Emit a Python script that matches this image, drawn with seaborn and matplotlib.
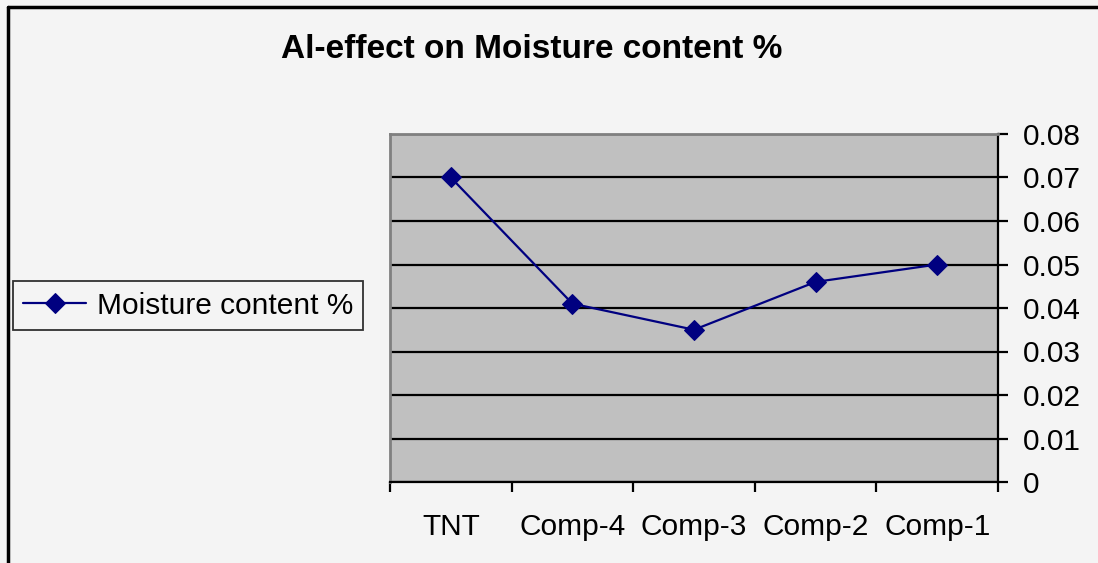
import numpy as np
import pandas as pd
import seaborn as sns
import matplotlib.pyplot as plt
from matplotlib.lines import Line2D

categories = ["TNT", "Comp-4", "Comp-3", "Comp-2", "Comp-1"]
moisture = [0.070, 0.041, 0.035, 0.046, 0.050]
series_name = "Moisture content %"
y_ticks = [0, 0.01, 0.02, 0.03, 0.04, 0.05, 0.06, 0.07, 0.08]
y_labels = ["0", "0.01", "0.02", "0.03", "0.04", "0.05", "0.06", "0.07", "0.08"]

df = pd.DataFrame({"cat": categories, "val": moisture, "series": series_name})

sns.set_style("white")
plt.rcParams['font.family'] = ['Liberation Sans', 'DejaVu Sans']
plt.rcParams['text.color'] = 'black'
plt.rcParams['xtick.color'] = 'black'
plt.rcParams['ytick.color'] = 'black'

W, H = 1098, 563
fig = plt.figure(figsize=(W / 100, H / 100), dpi=100, facecolor="#f4f4f4")
ax = fig.add_axes([390 / W, 1 - 482 / H, (998 - 390) / W, (482 - 134) / H])
ax.set_facecolor("#c0c0c0")

sns.lineplot(data=df, x="cat", y="val", hue="series", palette=["#000080"],
             marker="D", markersize=10, markeredgecolor="#000080", linewidth=1.6,
             ax=ax, legend=True)

ax.set_xlim(-0.5, len(categories) - 0.5)
ax.set_ylim(0, 0.08)
ax.set_xlabel("")
ax.set_ylabel("")

# y axis on the right
ax.yaxis.tick_right()
ax.set_yticks(y_ticks)
ax.set_yticklabels(y_labels, fontsize=21.5)
ax.tick_params(axis="y", direction="out", length=7, width=1.6, color="black", pad=11, right=True, left=False)
ax.yaxis.grid(True, color="black", linewidth=1.6)
ax.set_axisbelow(True)

# category labels centered, ticks between categories
ax.set_xticks(range(len(categories)))
ax.set_xticklabels(categories, fontsize=21.5)
ax.tick_params(axis="x", which="major", length=0, pad=22)
ax.set_xticks(np.arange(-0.5, len(categories), 1.0), minor=True)
ax.tick_params(axis="x", which="minor", direction="out", length=7, width=1.6, color="black", bottom=True)

for side in ["top", "left"]:
    ax.spines[side].set_color("#808080")
    ax.spines[side].set_linewidth(2)
for side in ["right", "bottom"]:
    ax.spines[side].set_color("black")
    ax.spines[side].set_linewidth(1.6)
    ax.spines[side].set_visible(True)

handles, labels = ax.get_legend_handles_labels()
ax.get_legend().remove()
leg = fig.legend(handles, labels, loc="center left", bbox_to_anchor=(13 / W, 1 - 305.5 / H),
                 borderaxespad=0, fontsize=21.5, frameon=True, fancybox=False,
                 handlelength=2.1, handletextpad=0.35, borderpad=0.35)
leg.get_frame().set_edgecolor("black")
leg.get_frame().set_linewidth(1.3)
leg.get_frame().set_facecolor("#f4f4f4")

fig.text(532 / W, 1 - 49 / H, "Al-effect on Moisture content %", ha="center", va="center",
         fontsize=24, fontweight="bold")

# outer chart border (only left and top visible)
fig.lines.append(Line2D([8 / W, 8 / W], [0, 1 - 7 / H], transform=fig.transFigure, color="black", linewidth=2.5))
fig.lines.append(Line2D([8 / W, 1], [1 - 7 / H, 1 - 7 / H], transform=fig.transFigure, color="black", linewidth=2.5))

fig.savefig("out.png", dpi=100, facecolor=fig.get_facecolor())
